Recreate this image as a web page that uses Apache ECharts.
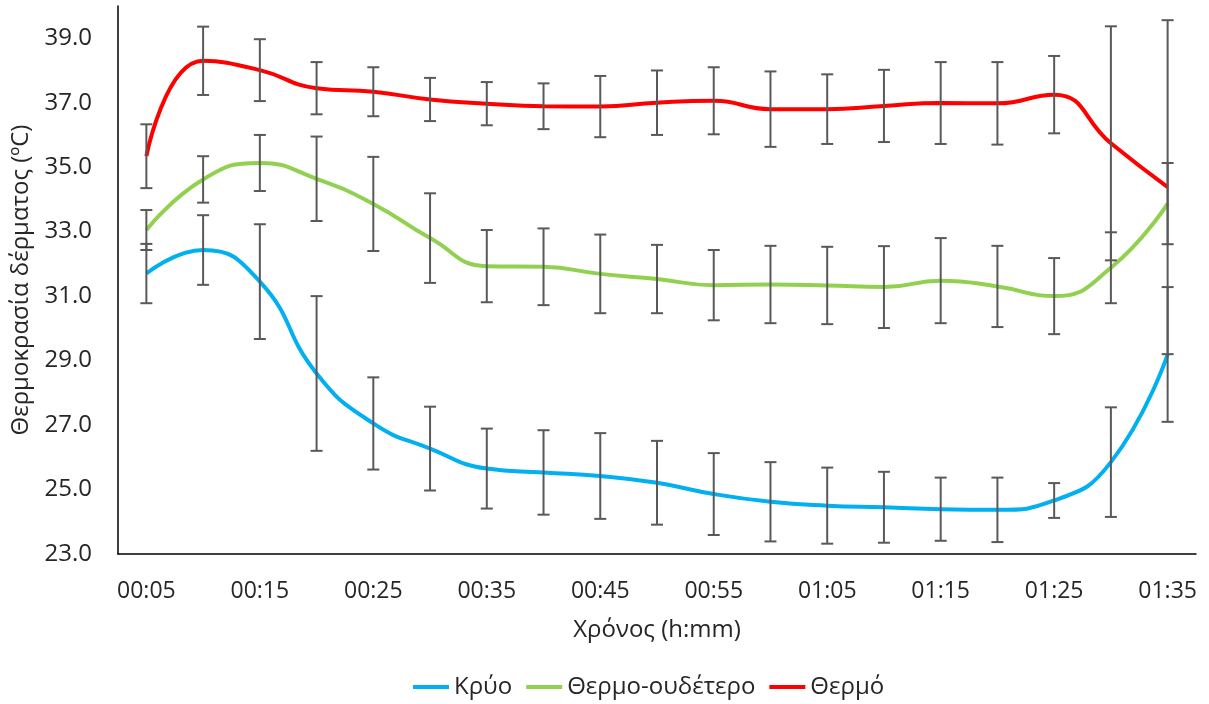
<!DOCTYPE html>
<html>
<head>
<meta charset="UTF-8">
<title>Θερμοκρασία δέρματος</title>
<script type="text/javascript" src="https://cdn.jsdelivr.net/npm/echarts@6/dist/echarts.min.js"></script>
<style>
  html, body { margin: 0; padding: 0; background: #fff; }
</style>
</head>
<body>
<div id="main" style="width:1209px;height:704px"></div>
<script type="text/javascript">
	// time labels (h:mm)
	var times = ['00:05','00:10','00:15','00:20','00:25','00:30','00:35','00:40','00:45','00:50',
		'00:55','01:00','01:05','01:10','01:15','01:20','01:25','01:30','01:35'];

	// Κρύο
	var kryo = [31.70, 32.43, 31.45, 28.60, 27.05, 26.27, 25.65, 25.53, 25.42, 25.21,
		24.86, 24.62, 24.50, 24.45, 24.39, 24.37, 24.66, 25.85, 29.19];
	var kryoErr = [0.92, 1.08, 1.78, 2.40, 1.43, 1.30, 1.24, 1.31, 1.33, 1.30,
		1.27, 1.23, 1.18, 1.10, 0.98, 1.00, 0.54, 1.70, 2.09];

	// Θερμο-ουδέτερο
	var oudetero = [33.05, 34.62, 35.13, 34.64, 33.86, 32.80, 31.93, 31.91, 31.69, 31.53,
		31.34, 31.36, 31.33, 31.28, 31.48, 31.30, 31.00, 31.88, 33.87];
	var oudeteroErr = [0.62, 0.72, 0.87, 1.31, 1.46, 1.39, 1.12, 1.19, 1.22, 1.06,
		1.09, 1.20, 1.20, 1.27, 1.32, 1.26, 1.18, 1.10, 1.26];

	// Θερμό
	var thermo = [35.34, 38.30, 38.01, 37.45, 37.34, 37.10, 36.97, 36.89, 36.88, 37.00,
		37.06, 36.80, 36.80, 36.90, 36.99, 36.98, 37.25, 35.74, 34.38];
	var thermoErr = [0.99, 1.06, 0.96, 0.81, 0.76, 0.67, 0.67, 0.71, 0.95, 1.00,
		1.04, 1.17, 1.08, 1.12, 1.27, 1.28, 1.20, 3.63, 5.18];

	var textColor = '#262626';
	var fontFam = '"Open Sans", "Noto Sans", sans-serif';

	// [index, low, high] for the error bars
	function errData(vals, errs) {
		return vals.map(function (v, i) {
			return [i, v - errs[i], v + errs[i]];
		});
	}

	function renderErr(params, api) {
		var i = api.value(0);
		var lo = api.coord([i, api.value(1)]);
		var hi = api.coord([i, api.value(2)]);
		var half = 6;
		var st = { stroke: '#595959', lineWidth: 2 };
		return {
			type: 'group',
			children: [
				{ type: 'line', shape: { x1: hi[0], y1: hi[1], x2: lo[0], y2: lo[1] }, style: st },
				{ type: 'line', shape: { x1: hi[0] - half, y1: hi[1], x2: hi[0] + half, y2: hi[1] }, style: st },
				{ type: 'line', shape: { x1: lo[0] - half, y1: lo[1], x2: lo[0] + half, y2: lo[1] }, style: st }
			]
		};
	}

	function lineSeries(name, data, color) {
		return {
			name: name,
			type: 'line',
			data: data,
			smooth: 0.5,
			symbol: 'none',
			lineStyle: { color: color, width: 4 },
			itemStyle: { color: color },
			z: 3
		};
	}

	function errSeries(name, vals, errs) {
		return {
			name: name,
			type: 'custom',
			renderItem: renderErr,
			data: errData(vals, errs),
			silent: true,
			z: 4
		};
	}

	var myChart = echarts.init(document.getElementById('main'));

	var option = {
		animation: false,
		textStyle: { fontFamily: fontFam },
		grid: { left: 118, right: 13, top: 6, bottom: 150 },
		legend: {
			data: ['Κρύο', 'Θερμο-ουδέτερο', 'Θερμό'],
			bottom: 0,
			left: 408,
			icon: 'rect',
			itemWidth: 36,
			itemHeight: 4,
			itemGap: 14,
			textStyle: { fontSize: 24, color: textColor, fontFamily: fontFam }
		},
		xAxis: {
			type: 'category',
			data: times,
			boundaryGap: true,
			name: 'Χρόνος (h:mm)',
			nameLocation: 'middle',
			nameGap: 64,
			nameTextStyle: { fontSize: 24, color: textColor },
			axisLine: { lineStyle: { color: '#000', width: 1.5 } },
			axisTick: { show: false },
			axisLabel: { interval: 1, fontSize: 23, color: textColor, margin: 26 },
			splitLine: { show: false }
		},
		yAxis: {
			type: 'value',
			min: 23,
			max: 40,
			interval: 2,
			name: 'Θερμοκρασία δέρματος (ºC)',
			nameLocation: 'middle',
			nameGap: 78,
			nameRotate: 90,
			nameTextStyle: { fontSize: 24, color: textColor },
			axisLine: { show: true, lineStyle: { color: '#000', width: 1.5 } },
			axisTick: { show: false },
			splitLine: { show: false },
			axisLabel: {
				fontSize: 24,
				color: textColor,
				margin: 26,
				showMaxLabel: false,
				formatter: function (v) { return v === 40 ? '' : v.toFixed(1); }
			}
		},
		series: [
			lineSeries('Κρύο', kryo, '#00B0F0'),
			lineSeries('Θερμο-ουδέτερο', oudetero, '#92D050'),
			lineSeries('Θερμό', thermo, '#FF0000'),
			errSeries('errKryo', kryo, kryoErr),
			errSeries('errOud', oudetero, oudeteroErr),
			errSeries('errThermo', thermo, thermoErr)
		]
	};

	myChart.setOption(option);
</script>
</body>
</html>
